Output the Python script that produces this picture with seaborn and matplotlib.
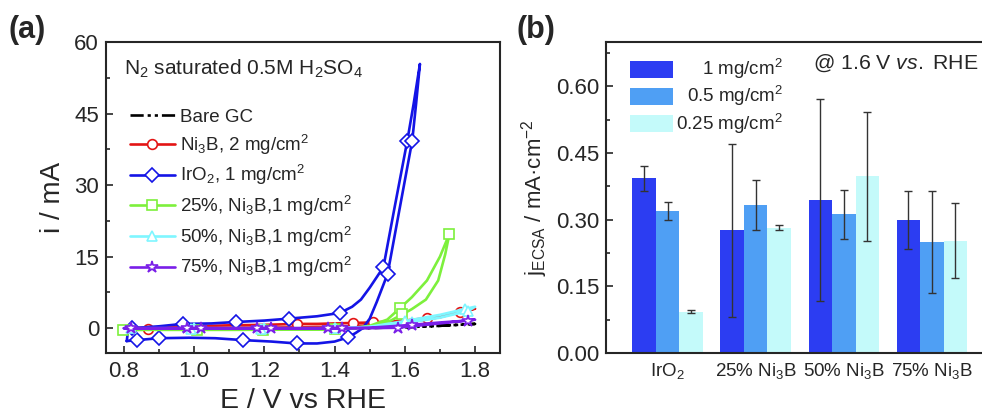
import numpy as np
import pandas as pd
import matplotlib
matplotlib.use("Agg")
import matplotlib.pyplot as plt
from matplotlib.ticker import MultipleLocator
import seaborn as sns

sns.set_style("ticks")
plt.rcParams['font.family'] = ['Liberation Sans', 'DejaVu Sans']
plt.rcParams['mathtext.fontset'] = 'custom'
plt.rcParams['mathtext.rm'] = 'Liberation Sans'
plt.rcParams['mathtext.it'] = 'Liberation Sans:italic'
plt.rcParams['mathtext.bf'] = 'Liberation Sans:bold'

# ---------------- Panel (a) data: CV loops (forward then backward) ----------------
gc_x = [0.80, 1.00, 1.20, 1.40, 1.50, 1.60, 1.70, 1.80, 1.70, 1.60, 1.50, 1.40, 1.20, 1.00, 0.80]
gc_y = [0.0, 0.0, 0.0, 0.0, 0.05, 0.2, 0.5, 0.9, 0.5, 0.2, 0.05, -0.05, -0.1, -0.1, 0.0]

ni_x = [0.80, 1.00, 1.10, 1.20, 1.293, 1.35, 1.452, 1.51, 1.60, 1.662, 1.72, 1.80,
        1.757, 1.70, 1.60, 1.50, 1.40, 1.20, 1.00, 0.87, 0.80]
ni_y = [0.0, 0.4, 0.6, 0.7, 0.9, 0.9, 1.1, 1.2, 1.6, 2.1, 2.9, 4.1,
        3.4, 2.3, 1.2, 0.6, 0.3, 0.1, -0.1, -0.2, -0.2]

ir_x = [0.808, 0.812, 0.822, 0.90, 0.967, 1.05, 1.119, 1.20, 1.269, 1.35, 1.415, 1.45, 1.475,
        1.50, 1.539, 1.57, 1.607, 1.625, 1.643, 1.632, 1.621, 1.58, 1.551, 1.52, 1.50, 1.48,
        1.46, 1.439, 1.40, 1.35, 1.292, 1.22, 1.14, 1.06, 0.986, 0.90, 0.836, 0.808]
ir_y = [-2.7, -0.5, 0.0, 0.4, 0.9, 1.0, 1.3, 1.6, 2.0, 2.5, 3.2, 4.5, 6.0,
        8.5, 12.8, 25.0, 39.3, 47.0, 55.4, 47.0, 39.3, 23.0, 11.4, 5.5, 2.0, 0.0,
        -1.0, -1.9, -2.8, -3.2, -3.2, -2.8, -2.5, -2.1, -2.0, -2.1, -2.5, -2.7]

g25_x = [0.798, 0.90, 1.008, 1.10, 1.196, 1.30, 1.40, 1.45, 1.50, 1.55, 1.586, 1.62, 1.663, 1.70, 1.727,
         1.715, 1.695, 1.66, 1.62, 1.593, 1.55, 1.50, 1.45, 1.30, 1.10, 0.90, 0.798]
g25_y = [-0.35, -0.3, -0.3, -0.3, -0.3, -0.3, -0.2, 0.0, 0.5, 1.8, 4.2, 6.5, 10.0, 15.0, 19.8,
         15.5, 10.0, 6.0, 4.0, 2.9, 1.2, 0.3, -0.1, -0.3, -0.35, -0.35, -0.35]

c50_x = [0.80, 0.82, 1.00, 1.20, 1.40, 1.50, 1.60, 1.70, 1.77, 1.80,
         1.78, 1.70, 1.62, 1.50, 1.40, 1.19, 0.99, 0.80]
c50_y = [0.0, 0.0, 0.0, 0.0, 0.0, 0.3, 1.5, 2.8, 4.0, 4.5,
         3.6, 2.2, 1.3, 0.2, 0.0, -0.1, -0.1, 0.0]

p75_x = [0.80, 0.82, 1.02, 1.22, 1.42, 1.50, 1.62, 1.70, 1.78, 1.80,
         1.70, 1.58, 1.50, 1.38, 1.18, 0.98, 0.80]
p75_y = [0.0, 0.0, 0.0, 0.0, 0.0, 0.1, 0.7, 1.2, 1.6, 1.8,
         1.0, 0.1, 0.0, 0.0, 0.0, 0.0, 0.0]

# ---------------- Panel (b) data ----------------
categories = ['IrO$_2$', '25% Ni$_3$B', '50% Ni$_3$B', '75% Ni$_3$B']
loadings = ['1 mg/cm$^2$', '0.5 mg/cm$^2$', '0.25 mg/cm$^2$']
j_1mg = [0.393, 0.276, 0.345, 0.299]
j_05mg = [0.320, 0.333, 0.312, 0.250]
j_025mg = [0.093, 0.282, 0.398, 0.253]
err_1mg = [0.028, 0.195, 0.227, 0.065]
err_05mg = [0.020, 0.057, 0.056, 0.115]
err_025mg = [0.003, 0.005, 0.145, 0.084]

W, H = 982, 415
fig = plt.figure(figsize=(W / 100, H / 100), dpi=100)
fig.patch.set_facecolor('white')

axa = fig.add_axes([106 / W, (H - 353) / H, 394 / W, 311 / H])
axb = fig.add_axes([606 / W, (H - 353) / H, 384 / W, 311 / H])

series = [
    ('Bare GC', gc_x, gc_y, 'black', None, dict(linestyle=(0, (5, 1.5, 1.2, 1.5, 1.2, 1.5)))),
    ('Ni$_3$B, 2 mg/cm$^2$', ni_x, ni_y, '#E31414', 'o', dict(markevery=[4, 6, 7, 9, 12, 19], markersize=7)),
    ('IrO$_2$, 1 mg/cm$^2$', ir_x, ir_y, '#1414E6', 'D', dict(markevery=[2, 4, 6, 8, 10, 14, 16, 20, 22, 27, 30, 32, 35, 36], markersize=7)),
    ('25%, Ni$_3$B,1 mg/cm$^2$', g25_x, g25_y, '#7DF03C', 's', dict(markevery=[0, 2, 4, 6, 10, 14, 19], markersize=7)),
    ('50%, Ni$_3$B,1 mg/cm$^2$', c50_x, c50_y, '#7FF6FF', '^', dict(markevery=[1, 2, 3, 4, 6, 8, 10, 12, 14, 15, 16], markersize=7)),
    ('75%, Ni$_3$B,1 mg/cm$^2$', p75_x, p75_y, '#7A1FE8', '*', dict(markevery=[1, 2, 3, 4, 6, 8, 11, 13, 14, 15], markersize=9)),
]
for label, xs, ys, col, mk, kw in series:
    extra = dict(kw)
    if mk is not None:
        extra.update(marker=mk, markerfacecolor='white', markeredgecolor=col, markeredgewidth=1.2)
    sns.lineplot(x=xs, y=ys, sort=False, estimator=None, color=col, linewidth=1.9,
                 ax=axa, label=label, **extra)

axa.set_xlim(0.749, 1.871)
axa.set_ylim(-5.2, 60)
axa.xaxis.set_minor_locator(MultipleLocator(0.1))
axa.yaxis.set_minor_locator(MultipleLocator(7.5))
axa.set_xticks([0.8, 1.0, 1.2, 1.4, 1.6, 1.8])
axa.set_xticklabels(['0.8', '1.0', '1.2', '1.4', '1.6', '1.8'])
axa.set_yticks([0, 15, 30, 45, 60])
axa.tick_params(which='both', direction='in', labelsize=16, width=1.2)
axa.tick_params(which='major', length=5)
axa.tick_params(which='minor', length=3)
axa.tick_params(axis='x', pad=6)
axa.tick_params(axis='y', pad=5)
axa.set_xlabel('E / V vs RHE', fontsize=20.5, labelpad=4)
axa.set_ylabel('i / mA', fontsize=20, labelpad=6)
for sp in axa.spines.values():
    sp.set_linewidth(1.5)
    sp.set_visible(True)

axa.text(0.046, 0.915, 'N$_2$ saturated 0.5M H$_2$SO$_4$', transform=axa.transAxes,
         fontsize=15, va='center', ha='left')
leg = axa.legend(loc='upper left', bbox_to_anchor=(0.06, 0.785), frameon=False, fontsize=13.5,
                 handlelength=2.4, handletextpad=0.3, labelspacing=0.35, borderaxespad=0, borderpad=0)

# ---------------- Panel (b) ----------------
df = pd.DataFrame({
    'cat': categories * 3,
    'load': [loadings[0]] * 4 + [loadings[1]] * 4 + [loadings[2]] * 4,
    'val': j_1mg + j_05mg + j_025mg,
})
palette = ['#2C3DF2', '#4F9FF4', '#C4FAFA']
sns.barplot(data=df, x='cat', y='val', hue='load', order=categories, hue_order=loadings,
            palette=palette, saturation=1, errorbar=None, width=0.8, ax=axb, linewidth=0)

errs = [err_1mg, err_05mg, err_025mg]
for cont, e in zip(axb.containers, errs):
    xs = [b.get_x() + b.get_width() / 2 for b in cont]
    hs = [b.get_height() for b in cont]
    axb.errorbar(xs, hs, yerr=e, fmt='none', ecolor='#333333', elinewidth=1.0, capsize=3, capthick=1.0)

axb.set_ylim(0, 0.70)
axb.set_xlim(-0.70, 3.66)
axb.yaxis.set_minor_locator(MultipleLocator(0.075))
axb.set_yticks([0.0, 0.15, 0.30, 0.45, 0.60])
axb.set_yticklabels(['0.00', '0.15', '0.30', '0.45', '0.60'])
axb.tick_params(axis='y', which='both', direction='in', labelsize=16, width=1.2, pad=5)
axb.tick_params(axis='y', which='major', length=5)
axb.tick_params(axis='y', which='minor', length=3)
axb.tick_params(axis='x', length=0, labelsize=13.5, pad=6)
axb.set_xlabel('')
axb.set_ylabel('j$_{\\mathrm{ECSA}}$ / mA·cm$^{-2}$', fontsize=16, labelpad=4)
for sp in axb.spines.values():
    sp.set_linewidth(1.5)
    sp.set_visible(True)

h, l = axb.get_legend_handles_labels()
legb = axb.legend(h, l, loc='upper left', bbox_to_anchor=(0.062, 0.95), frameon=False, fontsize=13.5,
                  handlelength=2.3, handleheight=1.05, handletextpad=0.3, labelspacing=0.16,
                  borderaxespad=0, borderpad=0)
fig.canvas.draw()
renderer = fig.canvas.get_renderer()
# right-align the legend labels next to their patches
for t, p in zip(legb.get_texts(), legb.get_patches()):
    bb = p.get_window_extent(renderer)
    yc = (bb.y0 + bb.y1) / 2
    fig.text((bb.x1 + 110) / W, yc / H, t.get_text(), ha='right', va='center', fontsize=13.5)
    t.set_visible(False)

axb.text(0.54, 0.932, '@ 1.6 V $\\mathit{vs.}$ RHE', transform=axb.transAxes, fontsize=15.3,
         va='center', ha='left')

fig.text(8 / W, 1 - 30 / H, '(a)', fontsize=22, fontweight='bold', va='center', ha='left')
fig.text(517 / W, 1 - 30 / H, '(b)', fontsize=22, fontweight='bold', va='center', ha='left')

fig.savefig('out.png', dpi=100, facecolor='white')
